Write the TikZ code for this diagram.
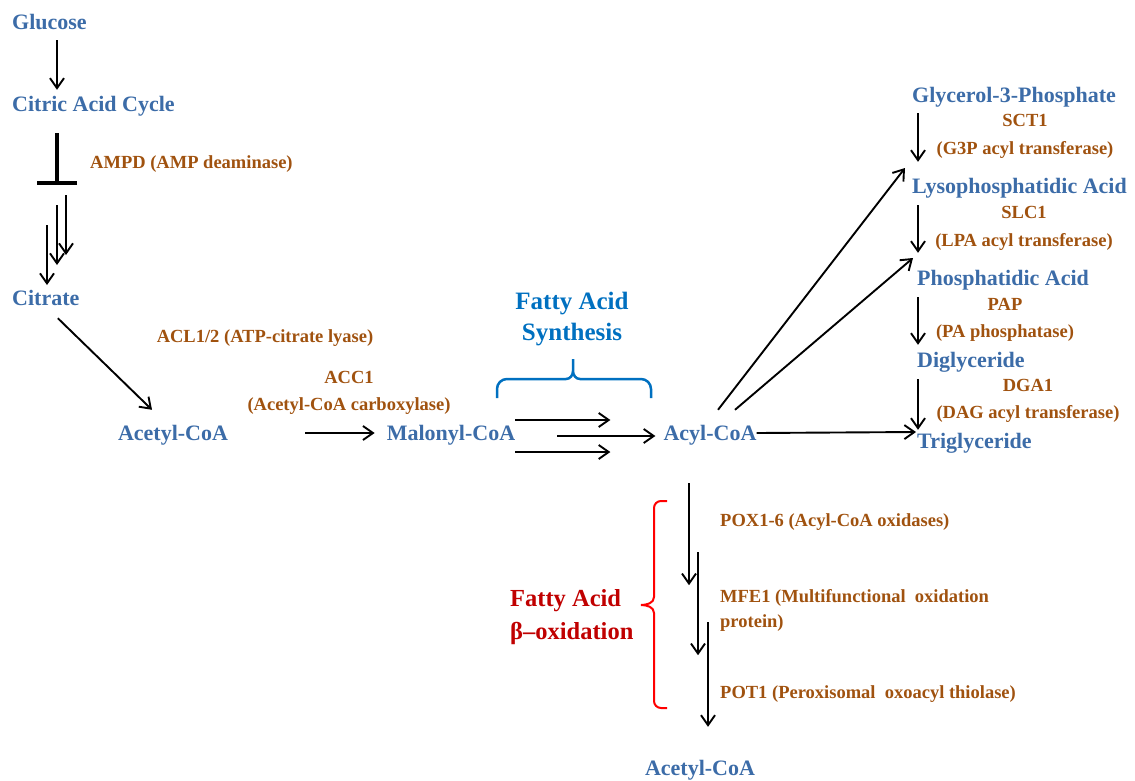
\documentclass[tikz,border=0pt]{standalone}
\usepackage{fontspec}
\setmainfont{Liberation Serif}
\usetikzlibrary{arrows.meta}
\definecolor{metblue}{RGB}{60,108,168}
\definecolor{enzbrown}{RGB}{160,82,15}
\definecolor{synblue}{RGB}{0,112,192}
\definecolor{oxred}{RGB}{192,0,0}
\begin{document}
\begin{tikzpicture}[
    x=1pt, y=-1pt,
    met/.style={text=metblue, font=\bfseries\fontsize{22}{26}\selectfont, inner sep=0pt, text height=16pt, text depth=2pt},
    enz/.style={text=enzbrown, font=\bfseries\fontsize{18.5}{27}\selectfont, inner sep=0pt},
    arr/.style={-{Straight Barb[length=10pt,width=14pt]}, line width=1.9pt},
    inhib/.style={-{Bar[width=40pt]}, line width=4pt},
    synbrace/.style={draw=synblue, line width=2.5pt},
    oxbrace/.style={draw=red, line width=2pt}
    ]
    \useasboundingbox (0,0) rectangle (1135,780);

    % Metabolity
    \node[met, anchor=west] (glu) at (12,22) {Glucose};
    \node[met, anchor=west] (cac) at (12,104) {Citric Acid Cycle};
    \node[met, anchor=west] (cit) at (12,298) {Citrate};
    \node[met] (acA) at (173,433) {Acetyl-CoA};
    \node[met] (mal) at (451,433) {Malonyl-CoA};
    \node[met] (acyl) at (710,433) {Acyl-CoA};
    \node[met, anchor=west] (g3p) at (912,95) {Glycerol-3-Phosphate};
    \node[met, anchor=west] (lpa) at (912,186) {Lysophosphatidic Acid};
    \node[met, anchor=west] (pa) at (917,278) {Phosphatidic Acid};
    \node[met, anchor=west] (dag) at (917,360) {Diglyceride};
    \node[met, anchor=west] (tag) at (917,441) {Triglyceride};
    \node[met] (acB) at (700,768) {Acetyl-CoA};

    % Enzymy
    \node[enz, anchor=west] (ampd) at (90,164.5) {AMPD (AMP deaminase)};
    \node[enz] (acl) at (265,338.5) {ACL1/2 (ATP-citrate lyase)};
    \node[enz, align=center] (acc) at (349,393) {ACC1\\(Acetyl-CoA carboxylase)};
    \node[enz, align=center] (sct) at (1025,136) {SCT1\\[1pt](G3P acyl transferase)};
    \node[enz, align=center] (slc) at (1024,228) {SLC1\\[1pt](LPA acyl transferase)};
    \node[enz, align=center] (pap) at (1005,320) {PAP\\(PA phosphatase)};
    \node[enz, align=center] (dga) at (1028,401) {DGA1\\(DAG acyl transferase)};
    \node[enz, anchor=west] (pox) at (720,522.5) {POX1-6 (Acyl-CoA oxidases)};
    \node[enz, anchor=west, align=left] (mfe) at (720,610) {MFE1 (Multifunctional\ \ oxidation\\[-2pt]protein)};
    \node[enz, anchor=west] (pot) at (720,694.5) {POT1 (Peroxisomal\ \ oxoacyl thiolase)};

    % Drahy
    \node[text=synblue, font=\bfseries\fontsize{25}{31}\selectfont, align=center, inner sep=0pt] (fas) at (572,319) {Fatty Acid\\Synthesis};
    \node[text=oxred, font=\bfseries\fontsize{24.5}{33}\selectfont, align=left, anchor=west, inner sep=0pt] (fao) at (510,617) {Fatty Acid\\β–oxidation};

    % Glukoza -> citrat
    \coordinate (axL) at (57,0);
    \coordinate (axR) at (918,0);
    \coordinate (blk) at (57,185);
    \draw[arr] ([yshift=-9pt]glu.south -| axL) -- ([yshift=5pt]cac.north -| axL);
    \draw[inhib] ([yshift=-20pt]cac.south -| axL) -- (blk);
    \foreach \dx/\dy in {9/10, 0/20, -10/40}
        \draw[arr] ([xshift=\dx pt, yshift=-\dy pt]blk) -- ++(0,60);
    \draw[arr] ([xshift=12pt,yshift=-11pt]cit.south) -- ([xshift=-21pt,yshift=14pt]acA.north);

    % Synteza mastnych kyselin
    \draw[arr] ([xshift=77pt]acA.east) -- ([xshift=-12pt]mal.west);
    \draw[arr] ([yshift=13pt]mal.east) -- ++(95,0);
    \draw[arr] ([xshift=42pt,yshift=-3pt]mal.east) -- ([xshift=-8pt,yshift=-3pt]acyl.west);
    \draw[arr] ([yshift=-19pt]mal.east) -- ++(95,0);
    \draw[synbrace] (497,398) -- (497,389) to[out=90,in=180] (507,379) -- (566,379)
        to[out=0,in=-90] (573,371) -- (573,359) -- (573,371) to[out=-90,in=180] (580,379)
        -- (641,379) to[out=0,in=90] (651,389) -- (651,398);

    % Triglyceridy
    \draw[arr] ([xshift=8pt,yshift=14pt]acyl.north) -- ([xshift=-7pt,yshift=18pt]lpa.west);
    \draw[arr] ([xshift=25pt,yshift=14pt]acyl.north) -- ([xshift=-4pt,yshift=20pt]pa.west);
    \draw[arr] (acyl.east) -- ([xshift=-1pt,yshift=9pt]tag.west);
    \foreach \a/\b/\s/\e in {g3p/lpa/9/15, lpa/pa/10/16, pa/dag/10/6, dag/tag/10/2}
        \draw[arr] ([yshift=-\s pt]\a.south -| axR) -- ([yshift=\e pt]\b.north -| axR);

    % Beta-oxidace
    \draw[arr] ([xshift=-21pt,yshift=-41pt]acyl.south) -- ++(0,102);
    \draw[arr] ([xshift=-12pt,yshift=-110pt]acyl.south) -- ++(0,103);
    \draw[arr] ([xshift=-2pt,yshift=-180pt]acyl.south) -- ([xshift=8pt,yshift=32pt]acB.north);
    \draw[oxbrace] (667,501) -- (661,501) to[out=180,in=90] (654,508) -- (654,597)
        to[out=-90,in=0] (641,605) to[out=0,in=90] (654,613) -- (654,701)
        to[out=-90,in=180] (661,708) -- (667,708);

\end{tikzpicture}
\end{document}
